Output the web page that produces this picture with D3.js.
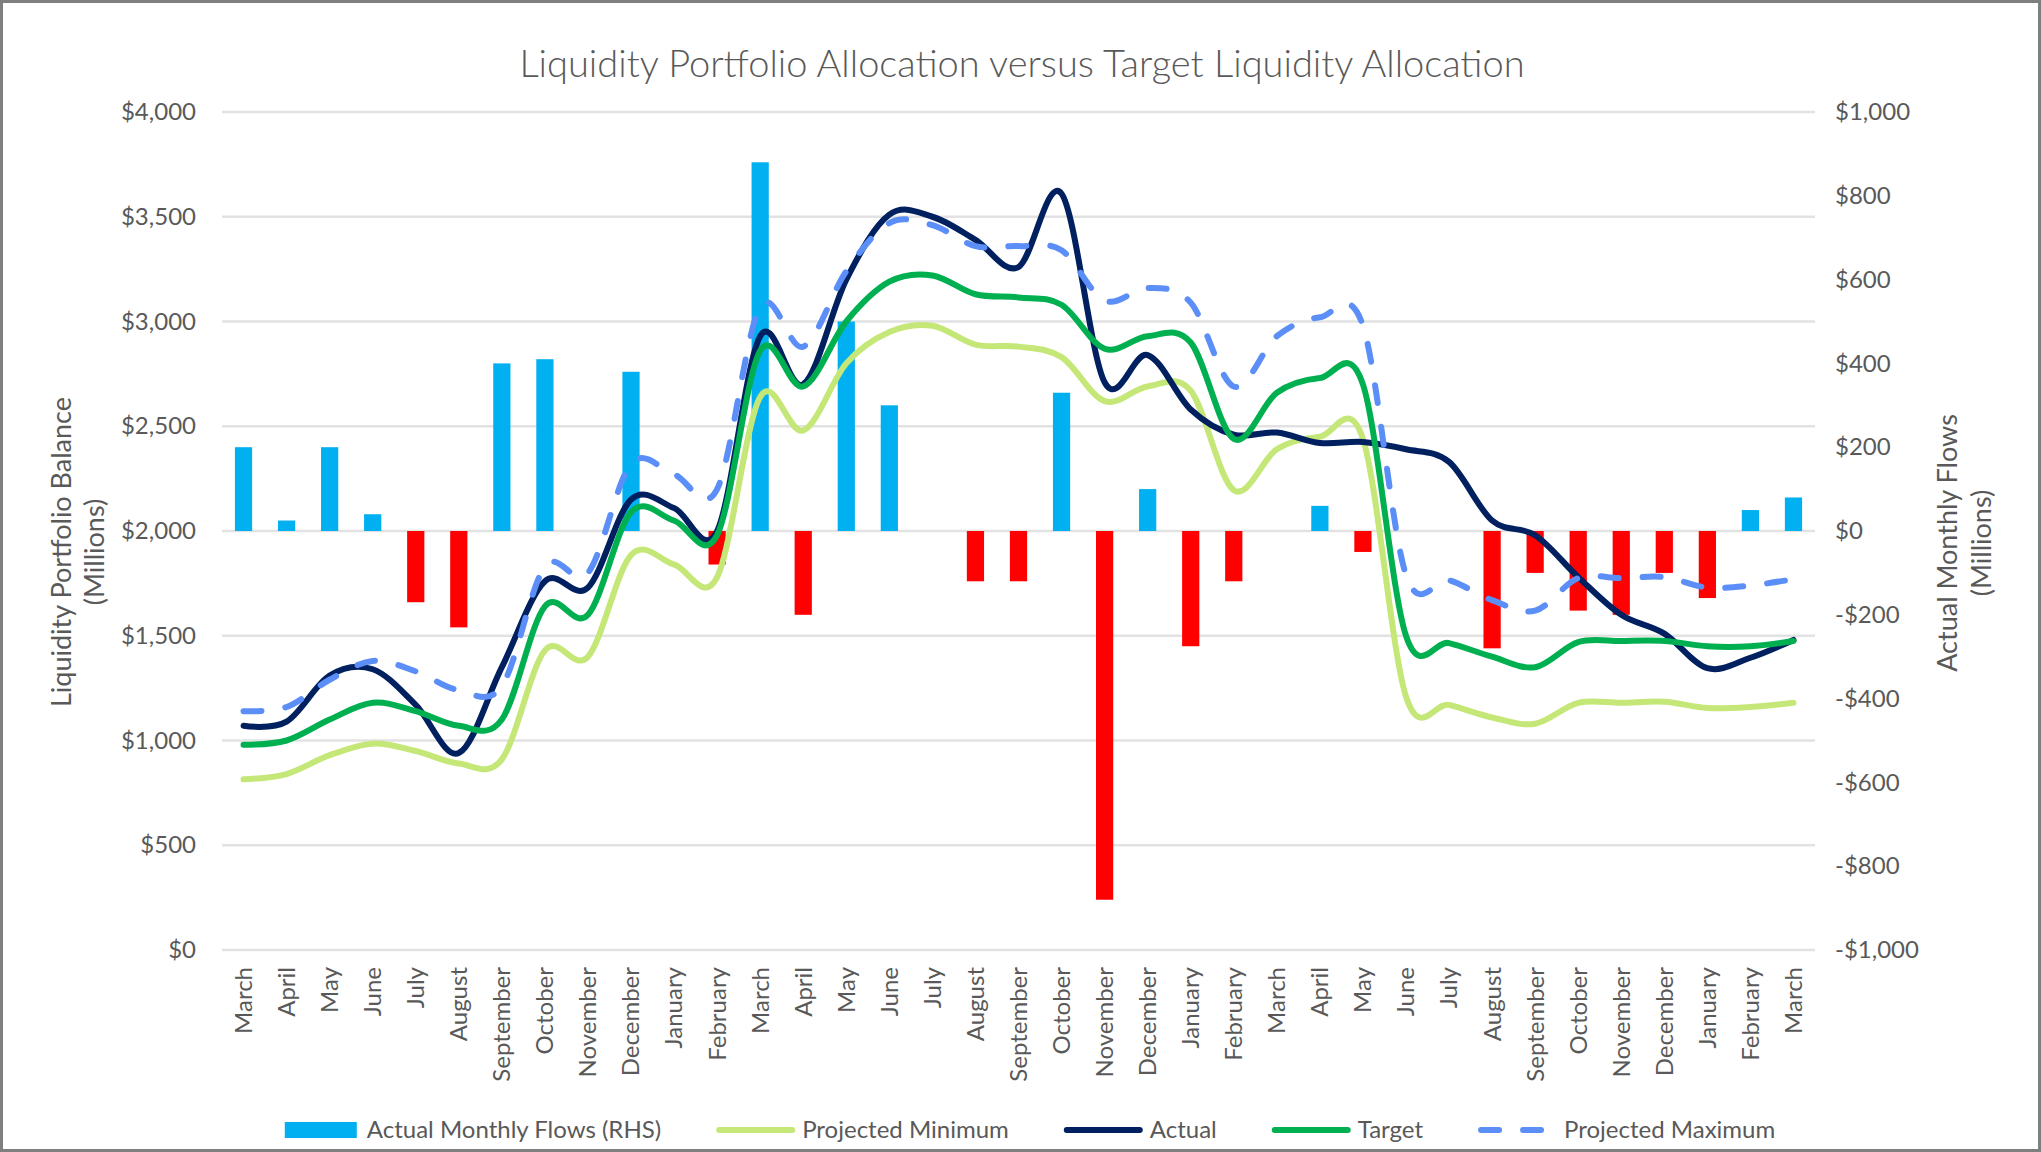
<!DOCTYPE html>
<html>
<head>
<meta charset="utf-8" />
<script src="https://d3js.org/d3.v7.min.js"></script>
<style>
  body { margin: 0; background: #fff; }
  text { font-family: Lato, "Open Sans", sans-serif; fill: #595959; }
</style>
</head>
<body>
<div id="chart"></div>
<script>
// categories (two years of months, March to March)
var months = ["March","April","May","June","July","August","September","October","November","December","January","February",
              "March","April","May","June","July","August","September","October","November","December","January","February",
              "March","April","May","June","July","August","September","October","November","December","January","February","March"];

// actual monthly flows, RHS ($ millions)
var flows = [200, 25, 200, 40, -170, -230, 400, 410, 0, 380, 0, -80,
             880, -200, 500, 300, 0, -120, -120, 330, -880, 100, -275, -120,
             0, 60, -50, 0, 0, -280, -100, -190, -200, -100, -160, 50, 80];

// balances, LHS ($ millions)
var projMin = [815, 840, 930, 985, 950, 890, 910, 1430, 1400, 1885, 1840, 1780,
               2640, 2480, 2800, 2950, 2980, 2890, 2880, 2830, 2620, 2690, 2670, 2195,
               2390, 2450, 2440, 1210, 1170, 1110, 1080, 1180, 1180, 1185, 1155, 1160, 1180];
var actual = [1070, 1090, 1310, 1340, 1170, 940, 1350, 1760, 1730, 2150, 2110, 2000,
              2930, 2700, 3200, 3510, 3500, 3390, 3260, 3610, 2710, 2840, 2580, 2460,
              2470, 2420, 2425, 2390, 2330, 2050, 1980, 1780, 1600, 1510, 1345, 1395, 1480];
var target = [980, 1000, 1100, 1180, 1140, 1070, 1100, 1640, 1600, 2090, 2050, 1980,
              2860, 2690, 3000, 3190, 3220, 3130, 3115, 3080, 2870, 2930, 2900, 2440,
              2660, 2730, 2700, 1500, 1465, 1400, 1350, 1470, 1475, 1475, 1450, 1450, 1475];
var projMax = [1140, 1160, 1290, 1380, 1330, 1240, 1260, 1830, 1800, 2320, 2270, 2200,
               3070, 2880, 3240, 3470, 3460, 3360, 3360, 3340, 3100, 3160, 3090, 2690,
               2930, 3020, 2980, 1790, 1765, 1670, 1620, 1775, 1775, 1780, 1730, 1740, 1770];

var leftTicks = [0, 500, 1000, 1500, 2000, 2500, 3000, 3500, 4000];
var rightTicks = [-1000, -800, -600, -400, -200, 0, 200, 400, 600, 800, 1000];

var W = 2041, H = 1152;
var plot = {left: 222, right: 1815, top: 112, bottom: 950};

var svg = d3.select("#chart").append("svg")
  .attr("width", W).attr("height", H);

// outer chart frame
svg.append("rect")
  .attr("x", 1.5).attr("y", 1.5)
  .attr("width", W - 3).attr("height", H - 3)
  .attr("fill", "#fff").attr("stroke", "#7f7f7f").attr("stroke-width", 3);

var idx = d3.range(months.length);
var x = d3.scaleBand().domain(idx).range([plot.left, plot.right]).padding(0);
var xc = function(i) { return x(i) + x.bandwidth() / 2; };
var yL = d3.scaleLinear().domain([0, 4000]).range([plot.bottom, plot.top]);
var yR = d3.scaleLinear().domain([-1000, 1000]).range([plot.bottom, plot.top]);

var money = function(d) { return (d < 0 ? "-$" : "$") + d3.format(",")(Math.abs(d)); };

// gridlines
svg.append("g").selectAll("line")
  .data(leftTicks)
  .enter().append("line")
    .attr("x1", plot.left).attr("x2", plot.right)
    .attr("y1", function(d) { return yL(d); })
    .attr("y2", function(d) { return yL(d); })
    .attr("stroke", "#e2e2e2").attr("stroke-width", 2.5);

// left axis
var gl = svg.append("g")
  .attr("transform", "translate(" + plot.left + ",0)")
  .call(d3.axisLeft(yL).tickValues(leftTicks).tickFormat(money).tickSize(0).tickPadding(26));
gl.select(".domain").remove();
gl.selectAll("text").style("font-size", "24px").style("font-family", "Lato").attr("fill", "#595959");

// right axis
var gr = svg.append("g")
  .attr("transform", "translate(" + plot.right + ",0)")
  .call(d3.axisRight(yR).tickValues(rightTicks).tickFormat(money).tickSize(0).tickPadding(20));
gr.select(".domain").remove();
gr.selectAll("text").style("font-size", "24px").style("font-family", "Lato").attr("fill", "#595959");

// x axis, rotated month labels
var gx = svg.append("g")
  .attr("transform", "translate(0," + plot.bottom + ")")
  .call(d3.axisBottom(x).tickFormat(function(i) { return months[i]; }).tickSize(0));
gx.select(".domain").remove();
gx.selectAll("text")
  .attr("transform", "rotate(-90)")
  .attr("x", -17).attr("y", 0).attr("dy", "0.35em")
  .style("text-anchor", "end")
  .style("font-size", "24px").style("font-family", "Lato")
  .attr("fill", "#595959");

// flow bars (RHS)
var barW = x.bandwidth() * 0.4;
svg.append("g").selectAll("rect")
  .data(flows)
  .enter().append("rect")
    .attr("x", function(d, i) { return xc(i) - barW / 2; })
    .attr("y", function(d) { return yR(Math.max(0, d)); })
    .attr("width", barW)
    .attr("height", function(d) { return Math.abs(yR(d) - yR(0)); })
    .attr("fill", function(d) { return d < 0 ? "#ff0000" : "#00b0f0"; });

// smoothed lines (LHS)
var line = d3.line()
  .x(function(d, i) { return xc(i); })
  .y(function(d) { return yL(d); })
  .curve(d3.curveCatmullRom.alpha(0));

var series = [
  {name: "Projected Minimum", values: projMin, color: "#c4e778", dash: null},
  {name: "Actual", values: actual, color: "#002060", dash: null},
  {name: "Target", values: target, color: "#00b050", dash: null},
  {name: "Projected Maximum", values: projMax, color: "#5b8ff7", dash: "18,24"}
];

svg.append("g").selectAll("path")
  .data(series)
  .enter().append("path")
    .attr("d", function(d) { return line(d.values); })
    .attr("fill", "none")
    .attr("stroke", function(d) { return d.color; })
    .attr("stroke-width", 6)
    .attr("stroke-linecap", "round")
    .attr("stroke-linejoin", "round")
    .attr("stroke-dasharray", function(d) { return d.dash; });

// title
svg.append("text")
  .attr("x", 1022).attr("y", 77)
  .attr("text-anchor", "middle")
  .style("font-size", "38px")
  .style("font-weight", "300")
  .text("Liquidity Portfolio Allocation versus Target Liquidity Allocation");

// axis titles
var leftTitle = svg.append("text")
  .attr("transform", "translate(0,552) rotate(-90)")
  .attr("text-anchor", "middle")
  .style("font-size", "27px");
leftTitle.append("tspan").attr("x", 0).attr("y", 71).text("Liquidity Portfolio Balance");
leftTitle.append("tspan").attr("x", 0).attr("y", 104).text("(Millions)");

var rightTitle = svg.append("text")
  .attr("transform", "translate(0,543) rotate(-90)")
  .attr("text-anchor", "middle")
  .style("font-size", "27px");
rightTitle.append("tspan").attr("x", 0).attr("y", 1957).text("Actual Monthly Flows");
rightTitle.append("tspan").attr("x", 0).attr("y", 1991).text("(Millions)");

// legend
var legendItems = [{name: "Actual Monthly Flows (RHS)", type: "bar", color: "#00b0f0", dash: null}]
  .concat(series.map(function(s) { return {name: s.name, type: "line", color: s.color, dash: s.dash}; }));

var legend = svg.append("g");
var ly = 1130, cursor = 0, gap = 55;
legendItems.forEach(function(item) {
  var g = legend.append("g").attr("transform", "translate(" + cursor + ",0)");
  var tx = item.type === "bar" ? 82 : 86;
  if (item.type === "bar") {
    g.append("rect").attr("x", 0).attr("y", ly - 8).attr("width", 72).attr("height", 16).attr("fill", item.color);
  } else {
    g.append("line").attr("x1", 3).attr("x2", 76).attr("y1", ly).attr("y2", ly)
      .attr("stroke", item.color).attr("stroke-width", 6)
      .attr("stroke-linecap", "round")
      .attr("stroke-dasharray", item.dash);
  }
  var t = g.append("text").attr("x", tx).attr("y", ly).attr("dy", "0.35em")
    .style("font-size", "24px").text(item.name);
  cursor += tx + t.node().getComputedTextLength() + gap;
});
var legendW = cursor - gap;
legend.attr("transform", "translate(" + (1030 - legendW / 2) + ",0)");
</script>
</body>
</html>
